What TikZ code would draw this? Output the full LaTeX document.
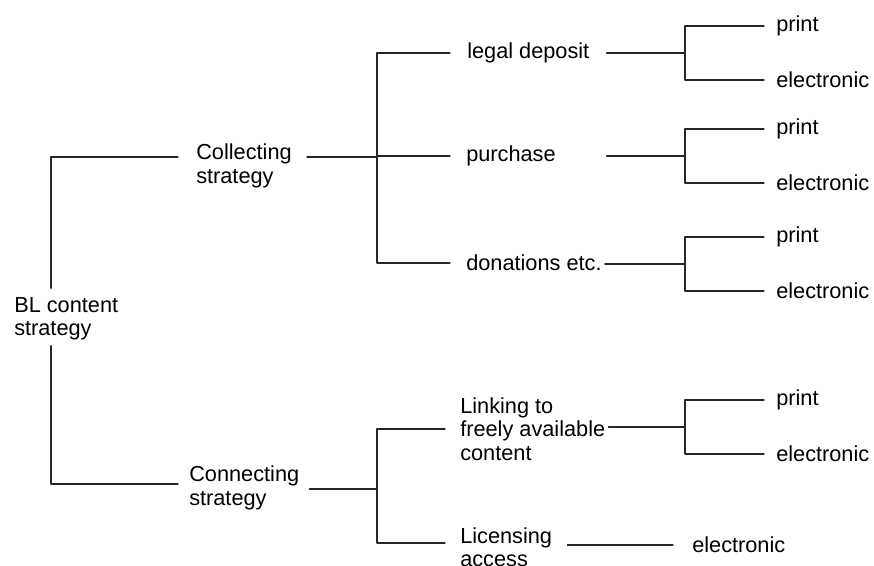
\documentclass[tikz,border=0pt]{standalone}
\usepackage{fontspec}
\setmainfont{Liberation Sans}
\usepackage{tikz}
\usetikzlibrary{calc}
\begin{document}
\begin{tikzpicture}[x=0.75pt, y=-0.75pt, line cap=round, line join=round,
	lbl/.style={anchor=west, inner sep=0pt, align=left, font=\fontsize{16.3}{17.5}\selectfont},
	tree/.style={draw=black!85, line width=0.8pt}]
				\useasboundingbox (0,0) rectangle (874,565);
				% text
				\node[lbl] (root) at (14,319) {BL content\\strategy};
				\node[lbl] (coll) at (196,166) {Collecting\\strategy};
				\node[lbl] (conn) at (189,488) {Connecting\\strategy};
				\node[lbl] (legal) at (467,53) {legal deposit};
				\node[lbl] (purch) at (466,156) {purchase};
				\node[lbl] (donat) at (466,263) {donations etc.};
				\node[lbl] (link) at (460,429) {Linking to\\freely available\\content};
				\node[lbl] (licen) at (460,547) {Licensing\\access};
				\node[lbl] (licel) at (692,545) {electronic};
				% spines
				\coordinate (rspine) at (51,157);
				\coordinate (cspine) at (377,157);
				\coordinate (kspine) at (377,489);
				\draw[tree] ($(root.north -| rspine)+(0,-9)$) -- (rspine) -- ($(coll.west)+(-18,-9)$);
				\draw[tree] ($(root.south -| rspine)+(0,5)$) |- ($(conn.west)+(-11,-4)$);
				\draw[tree] ($(coll.east)+(15,-9)$) -- (cspine);
				\draw[tree] ($(legal.west)+(-17,0)$) -| (cspine) |- ($(donat.west)+(-16,0)$);
				\draw[tree] (cspine |- purch.west) -- ($(purch.west)+(-16,0)$);
				\draw[tree] ($(conn.east)+(10,1)$) -- (kspine);
				\draw[tree] ($(link.west)+(-15,0)$) -| (kspine) |- ($(licen.west)+(-15,-4)$);
				\draw[tree] ($(licel.west -| licen.east)+(15,0)$) -- ($(licel.west)+(-19,0)$);
				% print / electronic
				\foreach \g/\m in {a/53, b/156, c/264, d/427}{
					\node[lbl] (print\g) at (776,\m-27) {print};
					\node[lbl] (elec\g) at (776,\m+27) {electronic};
					\coordinate (j\g) at (685,\m);
					\draw[tree] ($(print\g.west)+(-12,0)$) -| (j\g) |- ($(elec\g.west)+(-12,0)$);
				}
				\draw[tree] ($(ja -| legal.east)+(17,0)$) -- (ja);
				\draw[tree] ($(jb -| legal.east)+(17,0)$) -- (jb);
				\draw[tree] ($(jc -| donat.east)+(3,0)$) -- (jc);
				\draw[tree] ($(jd -| link.east)+(3,0)$) -- (jd);
			\end{tikzpicture}
\end{document}
